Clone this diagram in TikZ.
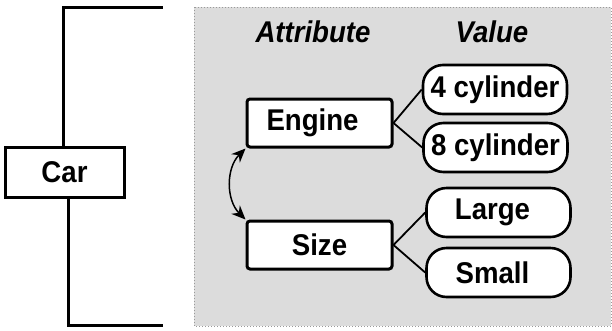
\documentclass[tikz,border=0pt]{standalone}
\usepackage{fontspec}
\setmainfont{Liberation Sans}
\newfontfamily\lblfont[FakeStretch=0.92]{Liberation Sans}
\usetikzlibrary{arrows.meta}
\definecolor{panelgray}{HTML}{DCDCDC}
\definecolor{dotgray}{HTML}{9A9A9A}
\begin{document}
\begin{tikzpicture}[x=1pt,y=-1pt,
  lbl/.style={font=\lblfont\fontsize{30}{32}\selectfont\bfseries},
  carbox/.style={draw,line width=3pt,fill=white,minimum width=119pt,minimum height=50pt,inner sep=0pt,lbl},
  attrbox/.style={draw,line width=3pt,fill=white,rounded corners=3pt,minimum width=145pt,minimum height=48pt,inner sep=0pt,lbl},
  valbox/.style={draw,line width=2.6pt,fill=white,rounded corners=20pt,minimum width=144pt,minimum height=49pt,inner sep=0pt,lbl},
  head/.style={font=\lblfont\fontsize{30}{32}\selectfont\bfseries\itshape},
  link/.style={line width=1.8pt},
  bracket/.style={line width=3pt}]
\useasboundingbox (0,0) rectangle (612,330);
% shaded panel
\draw[dotgray,line width=1pt,dotted,fill=panelgray] (194,7) rectangle (611,326);
% column headings
\node[head] (hattr) at (313,32) {Attribute};
\node[head] (hval) at (492,32) {Value};
% root node with its bracket
\node[carbox] (car) at (64.5,172) {Car};
\coordinate (ttop) at (63,7);
\coordinate (tend) at (163,7);
\coordinate (bbot) at (68,325);
\coordinate (bend) at (163,325);
\draw[bracket] (car.north -| ttop) -- (ttop) -- (tend);
\draw[bracket] (car.south -| bbot) -- (bbot) -- (bend);
% attributes (Engine's label sits a little left of centre)
\node[attrbox] (engine) at (319.5,123) {Engine\kern14pt};
\node[attrbox] (size) at (319.5,245) {Size};
% values
\node[valbox] (c4) at (495,89.5) {4 cylinder};
\node[valbox] (c8) at (495.5,147.5) {8 cylinder};
\node[valbox] (large) at (498.5,212.5) {Large\kern12pt};
\node[valbox] (small) at (498.5,272.5) {Small\kern12pt};
% links
\draw[link] (engine.east) -- (c4.west);
\draw[link] (engine.east) -- (c8.west);
\draw[link] (size.east) -- (large.west);
\draw[link] (size.east) -- (small.west);
\draw[line width=1.5pt,{Stealth[length=14pt,width=12pt]}-{Stealth[length=14pt,width=12pt]}]
  (engine.south west) to[bend right=45] (size.north west);
\end{tikzpicture}
\end{document}
